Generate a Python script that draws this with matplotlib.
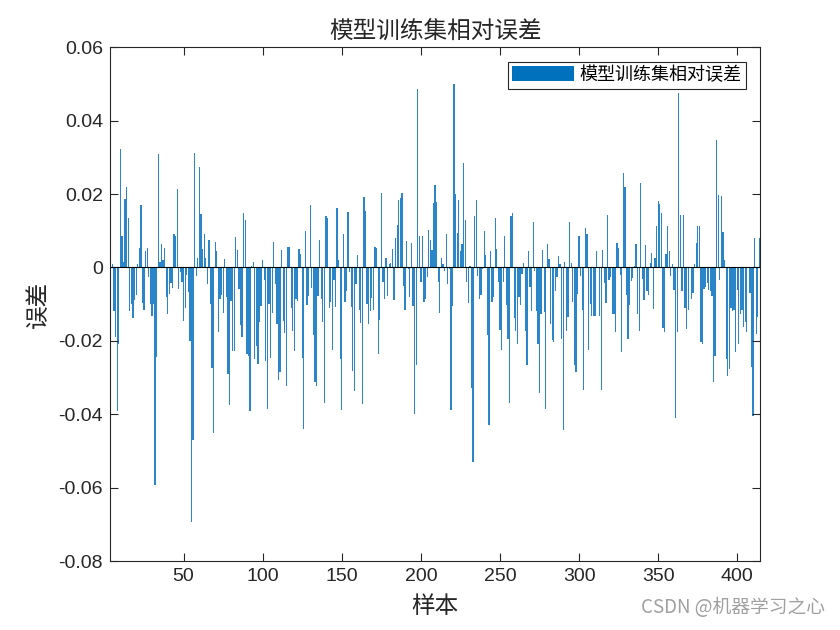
import numpy as np
import matplotlib
matplotlib.use('Agg')
import matplotlib.pyplot as plt
from matplotlib.ticker import FuncFormatter

plt.rcParams['font.family'] = ['Liberation Sans', 'Noto Sans CJK SC', 'DejaVu Sans']
plt.rcParams['axes.unicode_minus'] = False

# relative error per training sample
err_1 = [-0.0054, 0.001, -0.012, -0.019, -0.039, -0.021, 0.0324, 0.0087, 0.0015, 0.0187,
         0.022, 0.0135, -0.012, -0.010, -0.0138, -0.0088, -0.0075, 0.0009, 0.0054, 0.017,
         -0.0096, -0.0117, 0.0045, 0.0053, -0.0025, -0.010, -0.0133, -0.010, -0.0593, -0.0245,
         0.0308, 0.0015, 0.0065, 0.002]
err_2 = [0.0053, -0.008, -0.0128, -0.0072, -0.0042, -0.0056, 0.009, 0.0087, 0.0215, -0.0058,
         -0.0013, -0.004, -0.0146, -0.011, -0.002, -0.0067, -0.020, -0.0695, -0.047, 0.0312,
         -0.0024, 0.0025, 0.0275, 0.0146, 0.0051, 0.0092, 0.0026, -0.0046, 0.0074, -0.010,
         -0.0274, -0.045, 0.007, 0.0046, -0.0176]
err_3 = [-0.0085, -0.0074, -0.0124, 0.0022, -0.008, -0.029, -0.0374, -0.0092, -0.0228,
         -0.0228, 0.0083, 0.0048, -0.0058, -0.0156, -0.019, 0.0148, 0.0128, -0.0235, -0.024,
         -0.039, 0.0003, 0.0015, -0.0249, -0.0215, -0.0263, -0.015, -0.0104, 0.002, -0.0034,
         -0.0255, -0.0385, -0.0099, -0.0246, -0.0125]
err_4 = [0.007, -0.0045, -0.0154, -0.0306, -0.0285, 0.0048, -0.0146, -0.0178, -0.0322,
         0.0055, 0.0055, -0.011, -0.0174, -0.0228, -0.0087, -0.0092, 0.0051, 0.0037, -0.0246,
         -0.044, 0.0098, -0.0102, -0.0079, 0.0169, -0.0055, -0.0185, -0.0313, -0.0324, -0.0079,
         0.0075, -0.0085, -0.015, -0.037]
err_5 = [0.0139, 0.0135, -0.011, -0.0095, -0.0226, -0.0035, -0.0108, 0.0163, 0.002, -0.0249,
         -0.0388, 0.0092, -0.0095, -0.0065, 0.0151, -0.0013, -0.0108, -0.0283, -0.0337, -0.0046,
         0.0033, -0.0115, -0.0152, -0.0372, 0.0192, 0.0153, -0.0099, -0.0154, -0.0119, -0.0083,
         -0.0115, 0.0057, 0.0054, -0.0237, -0.0143]
err_6 = [0.0204, -0.004, -0.0087, 0.0026, -0.0079, 0.001, 0.0012, 0.0049, -0.009, 0.0081,
         0.0115, 0.0185, 0.019, 0.0204, -0.005, -0.0115, 0.0072, -0.0004, -0.008, 0.0067,
         -0.0106, -0.040, -0.0267, 0.0485, 0.0085, -0.004, 0.0085, -0.0095, -0.0085, -0.0026,
         0.0103, 0.0075, 0.0048]
err_7 = [0.0176, 0.0225, 0.0178, -0.004, -0.0124, 0.0026, 0.0008, -0.0011, 0.0092, -0.0046,
         -0.0004, -0.0388, -0.0105, 0.050, 0.0201, 0.0094, 0.0183, 0.0046, 0.0063, 0.0285,
         0.0128, -0.004, -0.0097, 0.0003, -0.0328, -0.053, 0.0139, 0.0183, -0.0024, -0.0087,
         -0.0075, -0.0005, 0.0099, 0.0033]
err_8 = [-0.0185, -0.043, 0.0045, -0.0095, -0.008, 0.0135, 0.0051, -0.004, -0.017, -0.0224,
         -0.004, 0.0086, -0.0102, -0.0195, -0.037, 0.0139, 0.0148, -0.0138, -0.0172, -0.021,
         -0.008, -0.0102, -0.0017, 0.0013, -0.0172, -0.0267, 0.0045, -0.0054, -0.0119, 0.0124,
         -0.001, -0.0119, -0.021, -0.0342]
err_9 = [-0.0126, 0.0048, -0.0122, -0.0385, 0.0065, 0.0024, -0.0154, -0.0197, -0.0202,
         -0.0065, -0.0026, 0.0031, 0.0008, -0.0195, -0.0443, 0.0015, -0.0174, -0.0135, 0.0124,
         0.0013, -0.0095, -0.0265, -0.0284, -0.0072, 0.0085, -0.0022, -0.0117, -0.0334, 0.0108,
         0.0092, -0.0225, -0.0099, -0.0131, -0.0131]
err_10 = [-0.0131, 0.0046, -0.0002, -0.0131, -0.0334, 0.0048, -0.0043, -0.0097, 0.0142, -0.0033,
          -0.0026, -0.0126, -0.0126, -0.0176, 0.0067, 0.0054, -0.002, -0.0231, 0.0257, 0.022,
          -0.0076, -0.0196, -0.0102, -0.0037, -0.0028, 0.0005, 0.0065, -0.0126, -0.0174, 0.023,
          -0.0031, -0.0088, 0.0062, -0.0063, -0.0076]
err_11 = [0.0012, 0.0038, -0.0113, 0.0026, 0.0112, 0.018, 0.0174, 0.0148, -0.0165, -0.0176,
          0.0037, 0.0112, 0.0046, -0.0022, 0.001, -0.0061, -0.041, -0.0176, 0.0475, 0.0144,
          -0.0065, 0.0144, -0.011, -0.0167, -0.0117, 0.0001, -0.0087, -0.007, 0.001, 0.0067,
          0.0113, 0.0113, -0.0204, -0.0208]
err_12 = [-0.0058, -0.0054, -0.0043, -0.0061, -0.0065, -0.0079, -0.0313, -0.024, 0.0348, 0.0198,
          -0.0033, 0.0194, 0.0096, 0.0019, -0.0249, -0.0295, -0.0276, -0.011, -0.012, -0.0117,
          -0.0231, -0.0061, -0.0208, -0.0126, -0.0115, -0.0163, -0.015, -0.0176, 0.0001, -0.007,
          -0.027, -0.0406, 0.0081, -0.0181, -0.0134, 0.0081]

err = np.array(err_1 + err_2 + err_3 + err_4 + err_5 + err_6 + err_7 + err_8 + err_9
               + err_10 + err_11 + err_12)
x_end = 414
samples = np.arange(x_end - len(err) + 1, x_end + 1)

y_ticks = [-0.08, -0.06, -0.04, -0.02, 0, 0.02, 0.04, 0.06]
x_ticks = [50, 100, 150, 200, 250, 300, 350, 400]

fig = plt.figure(figsize=(8.4, 6.3), dpi=100)
ax = fig.add_axes([0.131, 0.1095, 0.774, 0.8155])

ax.bar(samples, err, width=0.8, color='#2a86c8', linewidth=0, label='模型训练集相对误差')
ax.axhline(0, color='black', lw=0.8)

ax.set_xlim(3.5, x_end + 0.5)
ax.set_ylim(-0.08, 0.06)
ax.set_xticks(x_ticks)
ax.set_yticks(y_ticks)
ax.yaxis.set_major_formatter(FuncFormatter(lambda v, p: '0' if abs(v) < 1e-9 else '%g' % v))
ax.tick_params(direction='in', top=True, right=True, labelsize=14, length=6, width=0.8,
               colors='#262626', pad=5)
for s in ax.spines.values():
    s.set_color('#262626')
    s.set_linewidth(0.8)

cjk = ['Noto Sans CJK SC']
ax.set_title('模型训练集相对误差', family=cjk, fontsize=17, color='#262626', pad=6)
ax.set_xlabel('样本', family=cjk, fontsize=17, color='#262626', labelpad=7)
ax.set_ylabel('误差', family=cjk, fontsize=17, color='#262626', labelpad=6)

leg = ax.legend(loc='upper right', prop={'family': cjk, 'size': 13}, fancybox=False,
                framealpha=1, edgecolor='#262626', handlelength=3.4, handleheight=0.9,
                borderpad=0.25, handletextpad=0.3, borderaxespad=0.8)
leg.legend_handles[0].set_color('#0072BD')
leg.get_frame().set_linewidth(0.8)

fig.text(0.982, 0.035, 'CSDN @机器学习之心', ha='right', va='center', fontsize=13.5,
         color='#a0a0a0', family=['Noto Sans CJK SC'])

fig.savefig('out.png', dpi=100)
